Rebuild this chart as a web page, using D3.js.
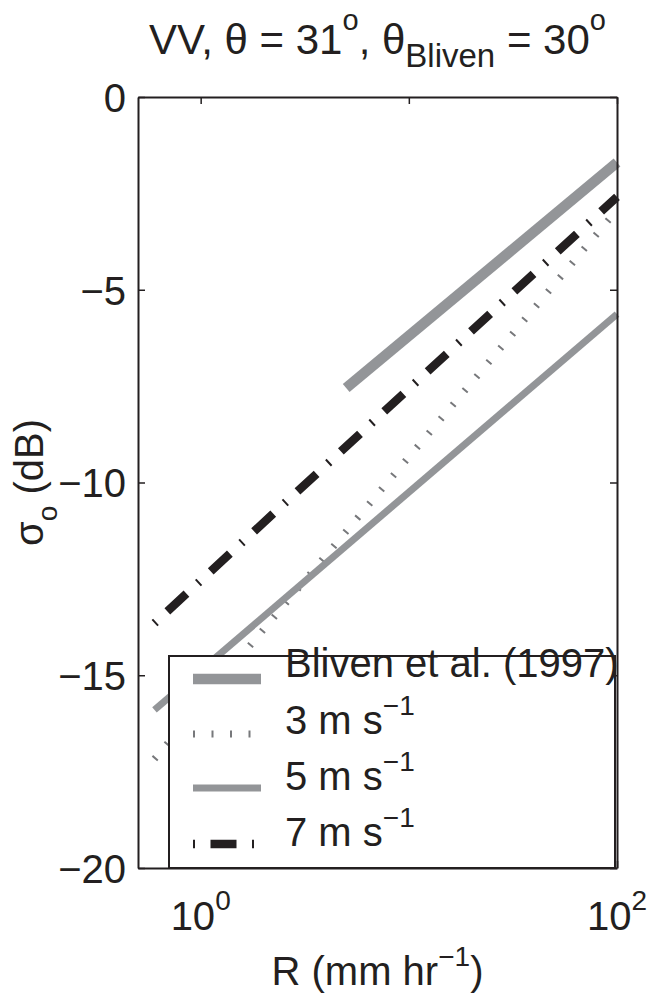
<!DOCTYPE html>
<html>
<head>
<meta charset="utf-8">
<script src="https://cdn.jsdelivr.net/npm/d3@7"></script>
<style>
  html, body { margin: 0; padding: 0; background: #fff; }
  svg { display: block; }
  text { font-family: "Liberation Sans", Arial, Helvetica, sans-serif; fill: #231f20; }
</style>
</head>
<body>
<script>
// Rain rate R (mm/hr) endpoints and normalized radar cross section (dB) for each curve
const blivenRain = [5, 100];
const blivenSigma = [-7.55, -1.7];
const windRain = [0.6, 100];
const sigma3 = [-17.17, -2.93];
const sigma5 = [-15.9, -5.63];
const sigma7 = [-13.65, -2.59];

const yTickValues = [0, -5, -10, -15, -20];
const xTickValues = [1, 10, 100];
const xLabelValues = [1, 100];
const xLabelExponents = ["0", "2"];

const legendLabels = ["Bliven et al. (1997)", "3 m s", "5 m s", "7 m s"];
const legendExponents = ["", "−1", "−1", "−1"];

const W = 650, H = 998;
const plotLeft = 138, plotRight = 617, plotTop = 97, plotBottom = 868;
const ink = "#231f20", gray = "#939598", dotGray = "#77787b";

const svg = d3.select("body").append("svg").attr("width", W).attr("height", H);

const x = d3.scaleLog().domain([0.5, 100]).range([plotLeft, plotRight]);
const y = d3.scaleLinear().domain([-20, 0]).range([plotBottom, plotTop]);

// Curves
const styles = [
  { rain: blivenRain, sigma: blivenSigma, color: gray, width: 10.5, dash: null },
  { rain: windRain, sigma: sigma3, color: dotGray, width: 7, dash: "2,16.5" },
  { rain: windRain, sigma: sigma5, color: gray, width: 7, dash: null },
  { rain: windRain, sigma: sigma7, color: ink, width: 8.5, dash: "2,15.5,26,15.5" }
];

const line = d3.line().x(d => x(d[0])).y(d => y(d[1]));
const plot = svg.append("g");
styles.forEach(s => {
  plot.append("path")
    .datum(s.rain.map((r, i) => [r, s.sigma[i]]))
    .attr("d", line)
    .attr("fill", "none")
    .attr("stroke", s.color)
    .attr("stroke-width", s.width)
    .attr("stroke-linecap", "butt")
    .attr("stroke-dasharray", s.dash);
});

// Axes with inward ticks on all four sides
const fmt = d => (d < 0 ? "−" + Math.abs(d) : String(d));
function styleAxis(g) {
  g.selectAll("path.domain").attr("stroke", ink).attr("stroke-width", 2);
  g.selectAll(".tick line").attr("stroke", ink).attr("stroke-width", 1.5);
}
svg.append("g").attr("transform", `translate(${plotLeft},0)`)
  .call(d3.axisLeft(y).tickValues(yTickValues).tickFormat(fmt).tickSizeInner(-7).tickSizeOuter(0).tickPadding(12))
  .call(styleAxis)
  .call(g => g.selectAll(".tick text").attr("font-size", 40).attr("fill", ink)
    .attr("font-family", "'Liberation Sans', Arial, sans-serif").attr("dy", "0.36em"));
svg.append("g").attr("transform", `translate(${plotRight},0)`)
  .call(d3.axisRight(y).tickValues(yTickValues).tickFormat("").tickSizeInner(-7).tickSizeOuter(0))
  .call(styleAxis);
svg.append("g").attr("transform", `translate(0,${plotTop})`)
  .call(d3.axisTop(x).tickValues(xTickValues).tickFormat("").tickSizeInner(-7).tickSizeOuter(0))
  .call(styleAxis);
svg.append("g").attr("transform", `translate(0,${plotBottom})`)
  .call(d3.axisBottom(x).tickValues(xTickValues).tickFormat("").tickSizeInner(-7).tickSizeOuter(0))
  .call(styleAxis);

// Power-of-ten tick labels
xLabelValues.forEach((v, i) => {
  const t = svg.append("text").attr("x", x(v)).attr("y", 930)
    .attr("text-anchor", "middle").attr("font-size", 40);
  t.append("tspan").text("10");
  t.append("tspan").attr("dy", -20).attr("font-size", 28).text(xLabelExponents[i]);
});

// Title
const title = svg.append("text").attr("x", (plotLeft + plotRight) / 2).attr("y", 54)
  .attr("text-anchor", "middle").attr("font-size", 42);
title.append("tspan").text("VV, θ = 31");
title.append("tspan").attr("dy", -24).attr("font-size", 29).text("o");
title.append("tspan").attr("dy", 24).text(", θ");
title.append("tspan").attr("dy", 13).attr("font-size", 33).text("Bliven");
title.append("tspan").attr("dy", -13).text(" = 30");
title.append("tspan").attr("dy", -24).attr("font-size", 29).text("o");

// Axis labels
const xl = svg.append("text").attr("x", (plotLeft + plotRight) / 2).attr("y", 985)
  .attr("text-anchor", "middle").attr("font-size", 40);
xl.append("tspan").text("R (mm hr");
xl.append("tspan").attr("dy", -19).attr("font-size", 28).text("−1");
xl.append("tspan").attr("dy", 19).text(")");

const yl = svg.append("text").attr("transform", `translate(43,${(plotTop + plotBottom) / 2}) rotate(-90)`)
  .attr("text-anchor", "middle").attr("font-size", 40);
yl.append("tspan").text("σ");
yl.append("tspan").attr("dy", 14).attr("font-size", 28).text("o");
yl.append("tspan").attr("dy", -14).text(" (dB)");

// Legend
const lg = svg.append("g");
lg.append("rect").attr("x", 169).attr("y", 656).attr("width", 446).attr("height", 212)
  .attr("fill", "#fff").attr("stroke", ink).attr("stroke-width", 2);
const rowY = [679, 734, 788, 844];
const textY = [677, 734, 790, 846];
styles.forEach((s, i) => {
  lg.append("line").attr("x1", 193).attr("x2", 261).attr("y1", rowY[i]).attr("y2", rowY[i])
    .attr("stroke", s.color).attr("stroke-width", s.width)
    .attr("stroke-dasharray", s.dash);
  const t = lg.append("text").attr("x", 285).attr("y", textY[i]).attr("font-size", 40);
  t.append("tspan").text(legendLabels[i]);
  if (legendExponents[i]) t.append("tspan").attr("dy", -19).attr("font-size", 28).text(legendExponents[i]);
});
</script>
</body>
</html>
